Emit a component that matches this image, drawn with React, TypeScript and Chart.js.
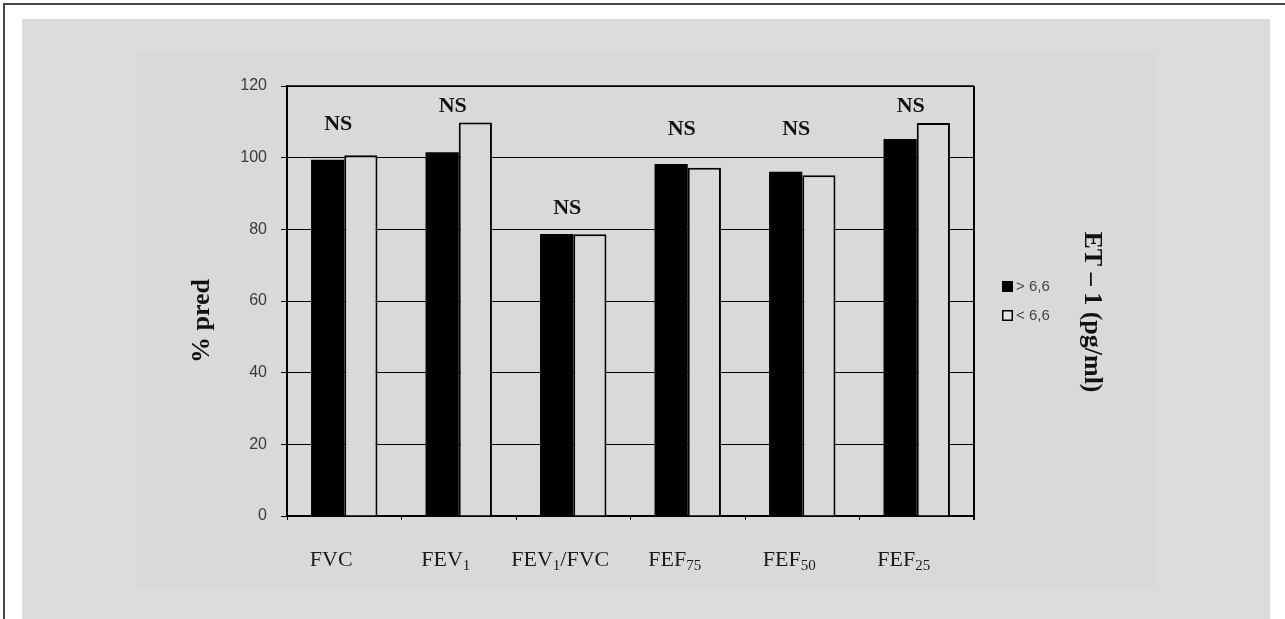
import React, { useEffect, useRef } from "react";
import { Chart, registerables } from "chart.js";

Chart.register(...registerables);

// ---- data ----
const categories = ["FVC", "FEV₁", "FEV₁/FVC", "FEF₇₅", "FEF₅₀", "FEF₂₅"];
const seriesLabels = ["> 6,6", "< 6,6"];
const highValues = [99.4, 101.5, 78.7, 98.2, 96.1, 105.2];
const lowValues = [100.7, 109.8, 78.6, 97.2, 95.1, 109.7];
const nsLevels = [110, 115, 86.5, 108.6, 108.6, 115];
const nsText = "NS";
const yMin = 0;
const yMax = 120;
const yStep = 20;
const yTitle = "% pred";
const legendTitle = "ET – 1 (pg/ml)";

const SERIF = "'Liberation Serif', 'Times New Roman', serif";
const SANS = "'Liberation Sans', Arial, sans-serif";
const PANEL_BG = "#d9d9d9";

const SUBS: Record<string, string> = {
  "₀": "0", "₁": "1", "₂": "2", "₃": "3", "₄": "4",
  "₅": "5", "₆": "6", "₇": "7", "₈": "8", "₉": "9",
};

function splitRuns(label: string): { text: string; sub: boolean }[] {
  const runs: { text: string; sub: boolean }[] = [];
  for (const ch of label) {
    const sub = ch in SUBS;
    const c = sub ? SUBS[ch] : ch;
    const last = runs[runs.length - 1];
    if (last && last.sub === sub) last.text += c;
    else runs.push({ text: c, sub });
  }
  return runs;
}

const decorPlugin = {
  id: "decor",
  afterDraw(chart: any) {
    const { ctx, chartArea: a, scales } = chart;
    const xs = scales.x;
    const ys = scales.y;
    ctx.save();

    // top and right frame lines
    ctx.strokeStyle = "#000";
    ctx.lineWidth = 1.5;
    ctx.beginPath();
    ctx.moveTo(a.left, a.top);
    ctx.lineTo(a.right, a.top);
    ctx.stroke();
    ctx.lineWidth = 2;
    ctx.beginPath();
    ctx.moveTo(a.right, a.top);
    ctx.lineTo(a.right, a.bottom + 4);
    ctx.stroke();

    // NS annotations
    ctx.fillStyle = "#111";
    ctx.font = `bold 22px ${SERIF}`;
    ctx.textAlign = "center";
    ctx.textBaseline = "alphabetic";
    nsLevels.forEach((lvl, i) => {
      const cx = xs.getPixelForValue(i) - 6;
      const cy = ys.getPixelForValue(lvl);
      ctx.fillText(nsText, cx, cy + 8);
    });

    // category labels with subscripts
    const mainFont = `22px ${SERIF}`;
    const subFont = `15px ${SERIF}`;
    ctx.fillStyle = "#1a1a1a";
    ctx.textAlign = "left";
    categories.forEach((lab, i) => {
      const runs = splitRuns(lab);
      let total = 0;
      const widths = runs.map((r) => {
        ctx.font = r.sub ? subFont : mainFont;
        const w = ctx.measureText(r.text).width;
        total += w;
        return w;
      });
      let x = xs.getPixelForValue(i) - 13 - total / 2;
      const base = a.bottom + 50;
      runs.forEach((r, k) => {
        ctx.font = r.sub ? subFont : mainFont;
        ctx.fillText(r.text, x, r.sub ? base + 3.5 : base);
        x += widths[k];
      });
    });

    // y axis title
    ctx.fillStyle = "#111";
    ctx.font = `bold 26px ${SERIF}`;
    ctx.textAlign = "center";
    ctx.textBaseline = "middle";
    ctx.save();
    ctx.translate(202, (a.top + a.bottom) / 2 + 20);
    ctx.rotate(-Math.PI / 2);
    ctx.fillText(yTitle, 0, 0);
    ctx.restore();

    // legend title (right)
    ctx.save();
    ctx.translate(a.right + 118, (a.top + a.bottom) / 2 + 11);
    ctx.rotate(Math.PI / 2);
    ctx.fillText(legendTitle, 0, 0);
    ctx.restore();

    // legend
    const mid = (a.top + a.bottom) / 2;
    const lx = a.right + 28;
    const ds = chart.data.datasets;
    ds.forEach((d: any, i: number) => {
      const cy = mid - 14.5 + i * 29;
      if (i === 0) {
        ctx.fillStyle = d.backgroundColor;
        ctx.fillRect(lx, cy - 5.5, 11, 11);
      } else {
        ctx.fillStyle = "#e6e6e6";
        ctx.fillRect(lx + 0.75, cy - 4.75, 9.5, 9.5);
        ctx.strokeStyle = "#000";
        ctx.lineWidth = 1.5;
        ctx.strokeRect(lx + 0.75, cy - 4.75, 9.5, 9.5);
      }
      ctx.fillStyle = "#444";
      ctx.font = `15px ${SANS}`;
      ctx.textAlign = "left";
      ctx.textBaseline = "middle";
      ctx.fillText(d.label, lx + 14, cy + 0.5);
    });

    ctx.restore();
  },
};

export default function App() {
  const ref = useRef<HTMLCanvasElement | null>(null);

  useEffect(() => {
    if (!ref.current) return;
    const chart = new Chart(ref.current, {
      type: "bar",
      data: {
        labels: categories,
        datasets: [
          {
            label: seriesLabels[0],
            data: highValues,
            backgroundColor: "#000",
            borderColor: "#000",
            borderWidth: 0,
            categoryPercentage: 0.58,
            barPercentage: 1,
          },
          {
            label: seriesLabels[1],
            data: lowValues,
            backgroundColor: PANEL_BG,
            borderColor: "#000",
            borderWidth: 2,
            categoryPercentage: 0.58,
            barPercentage: 1,
          },
        ],
      },
      options: {
        responsive: false,
        animation: false,
        devicePixelRatio: 1,
        layout: { padding: { left: 237, top: 86, right: 311, bottom: 0 } },
        plugins: {
          legend: { display: false },
          tooltip: { enabled: false },
          title: { display: false },
        },
        scales: {
          x: {
            offset: true,
            grid: {
              display: true,
              drawOnChartArea: false,
              drawTicks: true,
              tickLength: 4,
              color: "#000",
              lineWidth: 1,
              offset: true,
            },
            border: { display: true, color: "#000", width: 2 },
            ticks: { display: false },
            afterFit: (s: any) => {
              s.height = 103;
            },
          },
          y: {
            min: yMin,
            max: yMax,
            grid: {
              color: "#000",
              lineWidth: 1,
              tickLength: 6,
              drawTicks: true,
            },
            border: { display: true, color: "#000", width: 2 },
            ticks: {
              stepSize: yStep,
              padding: 14,
              color: "#3a3a3a",
              font: { family: SANS, size: 16 },
            },
            afterFit: (s: any) => {
              s.width = 50;
            },
          },
        },
      },
      plugins: [decorPlugin],
    });
    return () => chart.destroy();
  }, []);

  return (
    <div
      style={{
        position: "absolute",
        left: 0,
        top: 0,
        width: 1285,
        height: 619,
        background: "#fff",
        overflow: "hidden",
      }}
    >
      <div
        style={{
          position: "absolute",
          left: 3,
          top: 3,
          width: 1285,
          height: 2,
          background: "#444",
        }}
      />
      <div
        style={{
          position: "absolute",
          left: 3,
          top: 3,
          width: 2,
          height: 619,
          background: "#444",
        }}
      />
      <div
        style={{
          position: "absolute",
          left: 22,
          top: 19,
          width: 1248,
          height: 600,
          background: "#dcdcdd",
        }}
      />
      <div
        style={{
          position: "absolute",
          left: 137,
          top: 52,
          width: 1018,
          height: 536,
          background: PANEL_BG,
        }}
      />
      <canvas
        ref={ref}
        width={1285}
        height={619}
        style={{ position: "absolute", left: 0, top: 0 }}
      />
    </div>
  );
}
